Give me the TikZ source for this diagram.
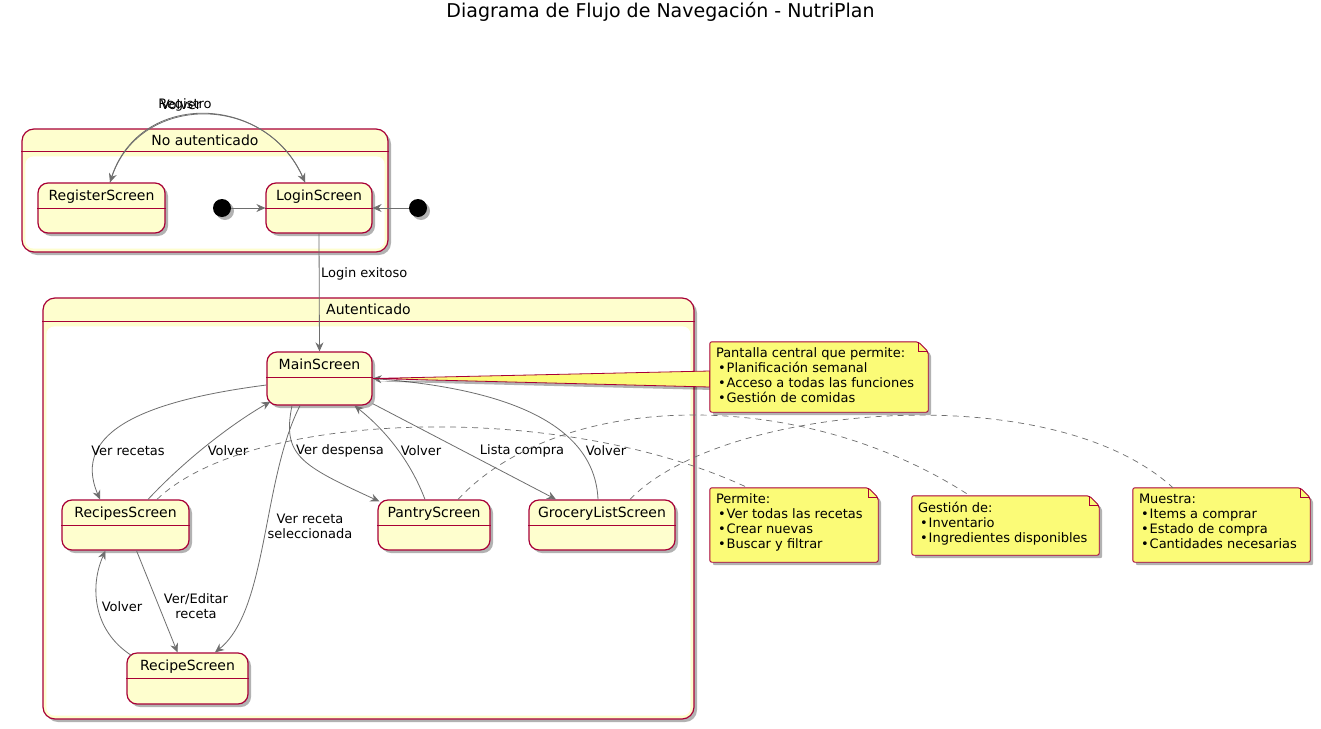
\documentclass[tikz,border=0pt]{standalone}
\usepackage{fontspec}
\setmainfont{DejaVu Sans}
\usetikzlibrary{arrows.meta,shadows}
\definecolor{stfill}{HTML}{FEFECE}
\definecolor{stline}{HTML}{A80036}
\definecolor{notefill}{HTML}{FBFB77}
\definecolor{arr}{HTML}{6E6E6E}
\tikzset{
  shadowed/.style={drop shadow={shadow xshift=3pt,shadow yshift=-3pt,opacity=0.3,fill=black}},
  statebox/.style={draw=stline, fill=stfill, line width=1.2pt, rounded corners=10pt, shadowed, inner sep=0pt},
  stname/.style={font=\fontsize{14}{16}\selectfont, inner sep=0pt, text height=10.5pt, text depth=3pt},
  compbox/.style={draw=stline, fill=stfill, line width=1.2pt, rounded corners=12pt, shadowed, inner sep=0pt},
  sepline/.style={draw=stline, line width=1.2pt},
  trans/.style={draw=arr, line width=0.8pt, -{Stealth[length=9pt,width=8pt,inset=3pt]}},
  elabel/.style={font=\fontsize{13}{15}\selectfont, inner sep=0pt, align=center},
  notetext/.style={font=\fontsize{13}{15}\selectfont, align=left, inner sep=0pt, anchor=north west},
  notebox/.style={inner sep=0pt, draw=none},
  noteshape/.style={draw=stline, fill=notefill, line width=0.9pt, shadowed, line join=round, rounded corners=2pt},
  notelink/.style={draw=arr, line width=0.7pt, dash pattern=on 6pt off 5pt},
  initdot/.style={circle, fill=black, minimum size=18pt, inner sep=0pt, shadowed},
}
\newcommand{\mkstate}[6]{%
  \node[statebox, minimum width=#4pt, minimum height=#5pt] (#1) at (#2,#3) {};
  \draw[sepline] ([yshift=-26pt]#1.north west) -- ([yshift=-26pt]#1.north east);
  \node[stname] (#1-t) at ([yshift=-14.5pt]#1.north) {#6};}
\newcommand{\notebg}[1]{%
  \path[noteshape] (#1.north west) -- ([xshift=-10pt]#1.north east) -- ([yshift=-10pt]#1.north east) -- (#1.south east) -- (#1.south west) -- cycle;
  \draw[draw=stline, line width=0.9pt] ([xshift=-10pt]#1.north east) |- ([yshift=-10pt]#1.north east);}
\newcommand{\bul}{\hspace*{2pt}•\hspace{1pt}}
\begin{document}
\begin{tikzpicture}[x=1pt,y=-1pt]
\useasboundingbox (0,0) rectangle (1321,728);
\fill[white] (0,0) rectangle (1321,728);

\node[font=\fontsize{19}{22}\selectfont, inner sep=0pt] (title) at (660.5,12) {Diagrama de Flujo de Navegación - NutriPlan};

% composite: No autenticado
\node[compbox, minimum width=366pt, minimum height=123pt] (noauth) at (205,190.5) {};
\draw[sepline] ([yshift=-23pt]noauth.north west) -- ([yshift=-23pt]noauth.north east);
\fill[white, rounded corners=8pt] ([xshift=4pt,yshift=-28pt]noauth.north west) rectangle ([xshift=-4pt,yshift=4pt]noauth.south east);
\node[stname] (noauth-t) at ([yshift=-13.5pt]noauth.north) {No autenticado};

% composite: Autenticado
\node[compbox, minimum width=651pt, minimum height=421pt] (auth) at (368.5,508.5) {};
\draw[sepline] ([yshift=-24pt]auth.north west) -- ([yshift=-24pt]auth.north east);
\fill[white, rounded corners=8pt] ([xshift=4pt,yshift=-29pt]auth.north west) rectangle ([xshift=-4pt,yshift=4pt]auth.south east);
\node[stname] (auth-t) at ([yshift=-13.5pt]auth.north) {Autenticado};

% states
\mkstate{reg}{101.5}{208}{127}{50}{RegisterScreen}
\mkstate{login}{319}{208}{106}{50}{LoginScreen}
\mkstate{main}{319.5}{378.5}{105}{53}{MainScreen}
\mkstate{recipes}{125.5}{525}{127}{50}{RecipesScreen}
\mkstate{pantry}{434}{525}{112}{50}{PantryScreen}
\mkstate{grocery}{602}{525}{146}{50}{GroceryListScreen}
\mkstate{recipe}{187.5}{678.5}{121}{51}{RecipeScreen}

\node[initdot] (i1) at (222,208) {};
\node[initdot] (i2) at (418,208) {};

% transitions
\draw[trans] ([xshift=8.5pt]reg.north) .. controls (135,90) and (265,92) .. ([xshift=-14pt]login.north);
\draw[trans] ([xshift=-14pt]login.north) .. controls (270,92) and (140,92) .. ([xshift=8.5pt]reg.north);
\node[elabel] (lreg) at (185,105) {Registro};
\node[elabel] (lvol) at (181,105) {Volver};

\draw[trans] (i1) -- (login.west);
\draw[trans] (i2) -- (login.east);

\draw[trans] (login.south) -- (main.north);
\node[elabel, anchor=west] (llog) at (321,274) {Login exitoso};

\draw[trans] ([yshift=-6.5pt]main.west) .. controls (150,400) and (70,430) .. ([xshift=-25.5pt]recipes.north);
\node[elabel] (l1) at (128,451) {Ver recetas};
\draw[trans] ([xshift=22.5pt]recipes.north) .. controls (185,460) and (230,425) .. ([xshift=4pt,yshift=4pt]main.south west);
\node[elabel] (l2) at (228,451) {Volver};

\draw[trans] ([xshift=-27.5pt]main.south) .. controls (282,455) and (300,465) .. ([xshift=2pt,yshift=-2pt]pantry.north west);
\node[elabel] (l3) at (340,451) {Ver despensa};
\draw[trans] ([xshift=-9pt]pantry.north) .. controls (410,460) and (385,430) .. ([xshift=35pt]main.south);
\node[elabel] (l4) at (421,451) {Volver};

\draw[trans] ([yshift=2pt]main.south east) -- ([xshift=-46pt]grocery.north);
\node[elabel] (l5) at (522,451) {Lista compra};
\draw[trans] ([xshift=-4pt]grocery.north) .. controls (595,430) and (520,390) .. (main.east);
\node[elabel] (l6) at (606,451) {Volver};

\draw[trans] ([xshift=-19.5pt]main.south) .. controls (262,480) and (268,610) .. ([xshift=27.5pt]recipe.north);
\node[elabel] (l7) at (310,526) {Ver receta\\seleccionada};

\draw[trans] ([xshift=11pt]recipes.south) -- ([xshift=-10pt]recipe.north);
\node[elabel] (l8) at (196,606) {Ver/Editar\\receta};
\draw[trans] ([xshift=5pt,yshift=-3pt]recipe.north west) .. controls (92,630) and (90,585) .. ([xshift=-20pt]recipes.south);
\node[elabel] (l9) at (122,607) {Volver};

% notes
\node[notebox, minimum width=218pt, minimum height=70pt] (n1) at (819,377) {};
\node[notebox, minimum width=168pt, minimum height=74pt] (n2) at (794,525) {};
\node[notebox, minimum width=187pt, minimum height=59pt] (n3) at (1005.5,525.5) {};
\node[notebox, minimum width=177pt, minimum height=74pt] (n4) at (1221.5,525) {};

\filldraw[fill=notefill, draw=stline, line width=0.8pt, shadowed] (main.east) -- ([yshift=6pt]n1.west) -- ([yshift=-10pt]n1.west) -- cycle;
\notebg{n1}
\notebg{n2}
\notebg{n3}
\notebg{n4}

\node[notetext] (n1t) at ([xshift=6pt,yshift=-6pt]n1.north west) {Pantalla central que permite:\\\bul Planificación semanal\\\bul Acceso a todas las funciones\\\bul Gestión de comidas};
\node[notetext] (n2t) at ([xshift=6pt,yshift=-6pt]n2.north west) {Permite:\\\bul Ver todas las recetas\\\bul Crear nuevas\\\bul Buscar y filtrar};
\node[notetext] (n3t) at ([xshift=6pt,yshift=-6pt]n3.north west) {Gestión de:\\\bul Inventario\\\bul Ingredientes disponibles};
\node[notetext] (n4t) at ([xshift=6pt,yshift=-6pt]n4.north west) {Muestra:\\\bul Items a comprar\\\bul Estado de compra\\\bul Cantidades necesarias};

% note links
\draw[notelink] ([xshift=31.5pt]recipes.north) .. controls (250,410) and (560,400) .. ([xshift=-46pt]n2.north);
\draw[notelink] ([xshift=24pt]pantry.north) .. controls (560,390) and (800,385) .. ([xshift=-35.5pt]n3.north);
\draw[notelink] ([xshift=28pt]grocery.north) .. controls (720,405) and (1050,375) .. ([xshift=-48.5pt]n4.north);
\end{tikzpicture}
\end{document}
